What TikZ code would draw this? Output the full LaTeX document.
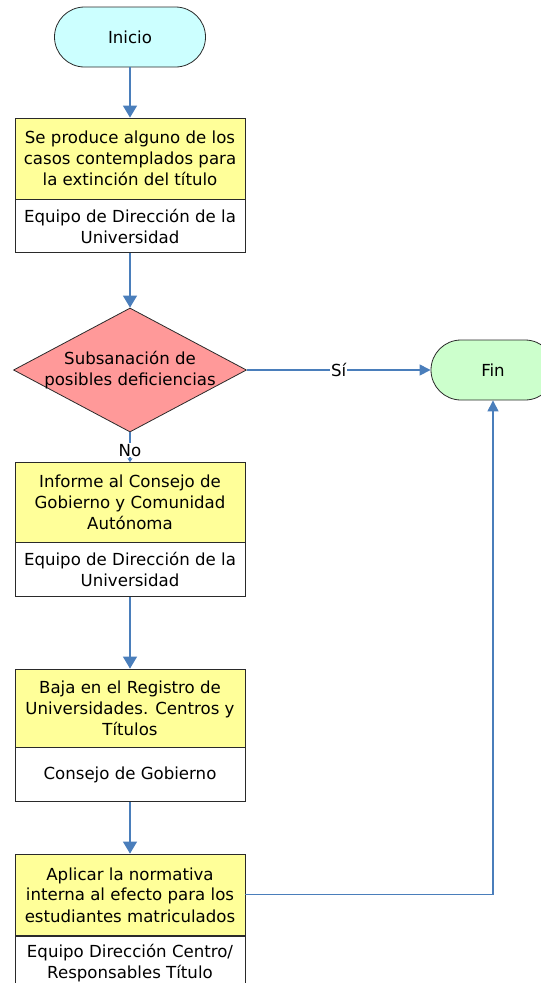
\documentclass[tikz,border=0pt]{standalone}
\usepackage{fontspec}
\setmainfont{DejaVu Sans}
\usetikzlibrary{arrows.meta,shapes.geometric,shapes.misc}
\definecolor{cyanfill}{HTML}{CCFFFF}
\definecolor{greenfill}{HTML}{CCFFCC}
\definecolor{yellowfill}{HTML}{FFFF99}
\definecolor{redfill}{HTML}{FF9999}
\definecolor{linkblue}{HTML}{4A7EBB}
\definecolor{edgecol}{HTML}{2A2A2A}
\begin{document}
\begin{tikzpicture}[x=1pt,y=-1pt,
 txt/.style={font=\fontsize{16.6}{21}\selectfont, align=center, text=black},
 term/.style={rounded rectangle, draw=edgecol, line width=0.8pt, minimum height=60pt, inner sep=0pt, txt},
 ybox/.style={rectangle, draw=edgecol, line width=0.8pt, fill=yellowfill, minimum width=230pt, inner sep=0pt, txt},
 wbox/.style={rectangle, draw=edgecol, line width=0.8pt, fill=white, minimum width=230pt, inner sep=0pt, txt},
 link/.style={draw=linkblue, line width=1.1pt, -{Triangle[width=14pt,length=12pt]}},
 smalllink/.style={draw=linkblue, line width=1.1pt, -{Triangle[width=11pt,length=11pt]}},
 lbl/.style={fill=white, inner sep=1pt, txt}
]
\useasboundingbox (0,0) rectangle (541,983);

\node[term, fill=cyanfill, minimum width=151pt] (inicio) at (130,37) {Inicio};

\node[ybox, minimum height=81pt] (b1) at (130,158.5) {Se produce alguno de los\\casos contemplados para\\la extinción del título};
\node[wbox, minimum height=53pt, anchor=north] (b1w) at (b1.south) {Equipo de Dirección de la\\Universidad};

\node[diamond, draw=edgecol, fill=redfill, line width=0.8pt, minimum width=233pt, minimum height=124pt, inner sep=0pt] (dia) at (130,370) {};
\node[txt] (diatext) at (dia.center) {Subsanación de\\posibles deficiencias};

\node[term, fill=greenfill, minimum width=124pt] (fin) at (493,370) {Fin};

\node[ybox, minimum height=79.3pt] (b2) at (130,502.3) {Informe al Consejo de\\Gobierno y Comunidad\\Autónoma};
\node[wbox, minimum height=53.7pt, anchor=north] (b2w) at (b2.south) {Equipo de Dirección de la\\Universidad};

\node[ybox, minimum height=78pt] (b3) at (130,708) {Baja en el Registro de\\Universidades. Centros y\\Títulos};
\node[wbox, minimum height=54pt, anchor=north] (b3w) at (b3.south) {Consejo de Gobierno};

\node[ybox, minimum height=81.6pt] (b4) at (130,894.8) {Aplicar la normativa\\interna al efecto para los\\estudiantes matriculados};
\node[wbox, minimum height=54pt, anchor=north] (b4w) at (b4.south) {Equipo Dirección Centro/\\Responsables Título};

\draw[link] (inicio.south) -- (b1.north);
\draw[link] (b1w.south) -- (dia.north);
\draw[smalllink] (dia.east) -- node[lbl] {Sí} (fin.west);
\draw[draw=linkblue, line width=1.1pt, -{Triangle[width=5pt,length=4pt]}] (dia.south) -- node[lbl, pos=0.6] {No} (b2.north);
\draw[link] (b2w.south) -- (b3.north);
\draw[link] (b3w.south) -- (b4.north);
\draw[smalllink] (b4.east) -| (fin.south);
\end{tikzpicture}
\end{document}
